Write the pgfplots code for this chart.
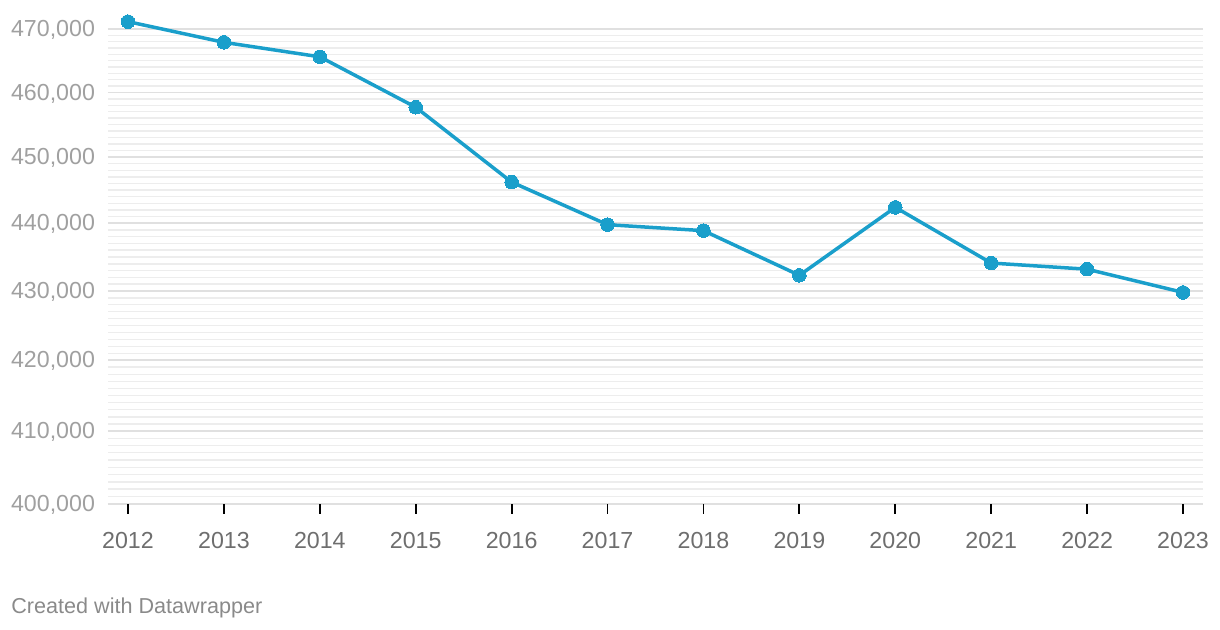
\documentclass[border=0pt]{standalone}
\usepackage{fontspec}
\setmainfont{Liberation Sans}
\usepackage{pgfplots}
\pgfplotsset{compat=1.18}
\definecolor{dwblue}{HTML}{1A9FCB}
\definecolor{ylab}{HTML}{A0A0A0}
\definecolor{xlab}{HTML}{6E6E6E}
\definecolor{gmaj}{HTML}{E0E0E0}
\definecolor{gmin}{HTML}{EDEDED}
\definecolor{credit}{HTML}{8A8A8A}
\begin{document}
\begin{tikzpicture}
\useasboundingbox (0,0) rectangle (610pt,315pt);
% values in thousands
\begin{axis}[
  at={(54pt,63pt)}, anchor=south west,
  scale only axis, width=547.5pt, height=242pt,
  xmin=2011.7915, xmax=2023.2085,
  ymode=log, ymin=400, ymax=471.5,
  clip=false,
  axis line style={draw=none},
  xtick={2012,2013,2014,2015,2016,2017,2018,2019,2020,2021,2022,2023},
  xticklabels={2012,2013,2014,2015,2016,2017,2018,2019,2020,2021,2022,2023},
  xtick pos=bottom, tick align=outside,
  major tick length=5pt,
  xtick style={black, line width=0.9pt},
  ytick style={draw=none},
  minor tick length=0pt,
  xticklabel style={font=\fontsize{11.6}{13}\selectfont, text=xlab, yshift=-6pt},
  yticklabel style={font=\fontsize{11.6}{13}\selectfont, text=ylab, xshift=2pt, yshift=-0.5pt},
  ytick={400,410,420,430,440,450,460,470},
  yticklabels={400{,}000,410{,}000,420{,}000,430{,}000,440{,}000,450{,}000,460{,}000,470{,}000},
  minor ytick={400,401,...,470},
  ymajorgrids, yminorgrids,
  major grid style={draw=gmaj, line width=0.9pt},
  minor grid style={draw=gmin, line width=0.75pt},
]
\addplot[color=dwblue, line width=1.75pt, line join=round,
  mark=*, mark size=3.4pt, mark options={fill=dwblue, draw=dwblue, line width=0pt}]
  coordinates {
  (2012,471.2) (2013,467.9) (2014,465.6) (2015,457.7)
  (2016,446.2) (2017,439.8) (2018,438.9) (2019,432.3)
  (2020,442.4) (2021,434.1) (2022,433.2) (2023,429.8)
  };
\end{axis}
\node[anchor=base west, inner sep=0pt, text=credit, font=\fontsize{10.8}{12}\selectfont] at (5.5pt,8pt) {Created with Datawrapper};
\end{tikzpicture}
\end{document}
